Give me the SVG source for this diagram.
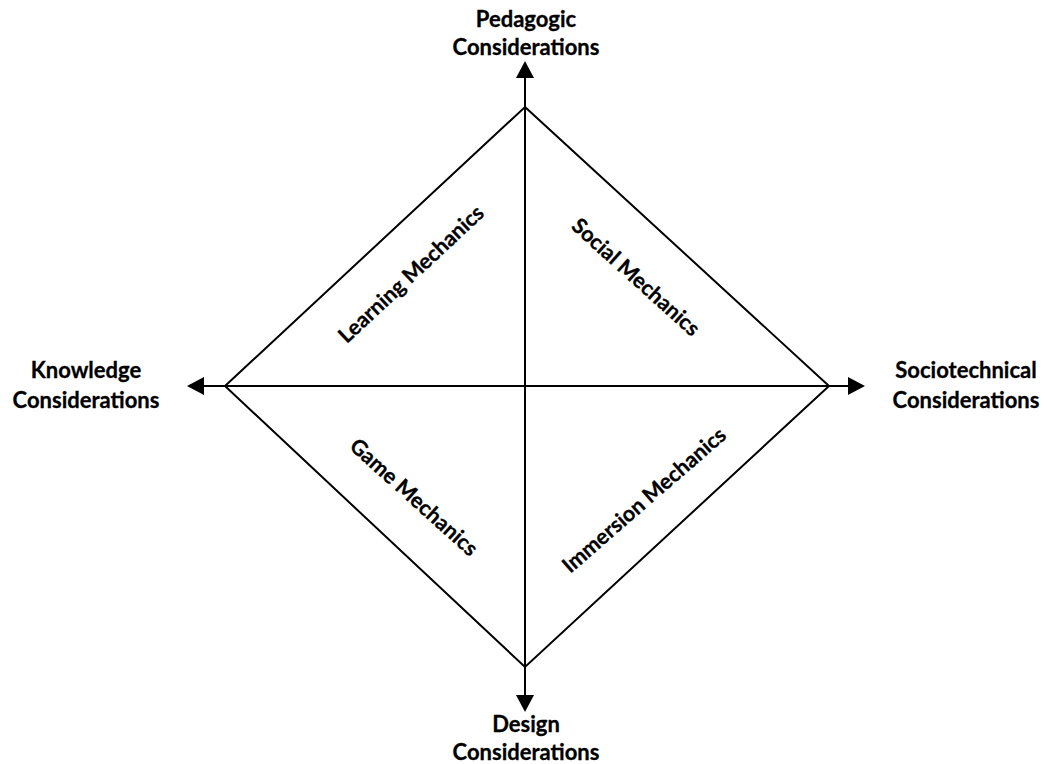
<svg xmlns="http://www.w3.org/2000/svg" width="1047" height="764" viewBox="0 0 1047 764">
<style>
.lbl{font-family:"Lato","Liberation Sans",sans-serif;font-weight:bold;font-size:22px;fill:#000;text-anchor:middle;stroke:#000;stroke-width:0.3}
.mech{font-size:21.5px}
.ln{stroke:#000;stroke-width:2;fill:none}
</style>
<defs>
<marker id="ah" markerUnits="userSpaceOnUse" markerWidth="18" markerHeight="18" refX="0" refY="9" orient="auto-start-reverse" viewBox="0 0 18 18">
<path d="M0,0 L17,9 L0,18 z" fill="#000"/>
</marker>
</defs>
<rect width="1047" height="764" fill="#fff"/>
<g id="connectors">
<polygon class="ln" points="525,107 829,386 525,667 225,386"/>
<line class="ln" x1="525" y1="78" x2="525" y2="695" marker-start="url(#ah)" marker-end="url(#ah)"/>
<line class="ln" x1="204" y1="386" x2="848" y2="386" marker-start="url(#ah)" marker-end="url(#ah)"/>
</g>
<g id="pedagogic"><text class="lbl" x="526" y="27">Pedagogic</text><text class="lbl" x="526" y="55">Considerations</text></g>
<g id="knowledge"><text class="lbl" x="86" y="378">Knowledge</text><text class="lbl" x="86" y="408">Considerations</text></g>
<g id="sociotechnical"><text class="lbl" x="966" y="378">Sociotechnical</text><text class="lbl" x="966" y="408">Considerations</text></g>
<g id="design"><text class="lbl" x="526" y="732">Design</text><text class="lbl" x="526" y="760">Considerations</text></g>
<g id="learning"><text class="lbl mech" transform="translate(411,274) rotate(-43)" dy="0.35em">Learning Mechanics</text></g>
<g id="social"><text class="lbl mech" transform="translate(636,277) rotate(42)" dy="0.35em">Social Mechanics</text></g>
<g id="game"><text class="lbl mech" transform="translate(414,497) rotate(42)" dy="0.35em">Game Mechanics</text></g>
<g id="immersion"><text class="lbl mech" transform="translate(644,500) rotate(-41)" dy="0.35em">Immersion Mechanics</text></g>
</svg>
